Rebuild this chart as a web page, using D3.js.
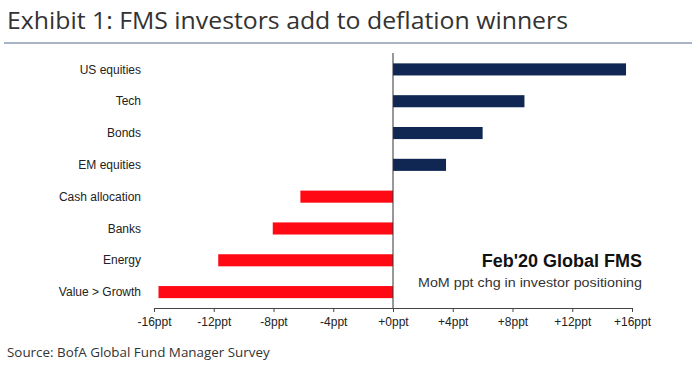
<!DOCTYPE html>
<html>
<head>
<meta charset="utf-8">
<script src="https://cdn.jsdelivr.net/npm/d3@7"></script>
<style>
  body { margin: 0; background: #fff; }
  svg { display: block; }
</style>
</head>
<body>
<div id="chart"></div>
<script>
const categories = ["US equities", "Tech", "Bonds", "EM equities", "Cash allocation", "Banks", "Energy", "Value > Growth"];
const changes = [15.6, 8.8, 6.0, 3.55, -6.2, -8.05, -11.7, -15.7];
const tickValues = [-16, -12, -8, -4, 0, 4, 8, 12, 16];
const tickLabels = ["-16ppt", "-12ppt", "-8ppt", "-4ppt", "+0ppt", "+4ppt", "+8ppt", "+12ppt", "+16ppt"];

const width = 692, height = 377;
const font = "Arial, 'Liberation Sans', sans-serif";

const svg = d3.select("#chart").append("svg")
    .attr("width", width)
    .attr("height", height);

// title + rule
svg.append("text")
    .attr("x", 7).attr("y", 29)
    .attr("font-family", "'Open Sans', sans-serif")
    .attr("font-size", 23)
    .attr("fill", "#333")
    .attr("textLength", 561)
    .attr("lengthAdjust", "spacingAndGlyphs")
    .text("Exhibit 1: FMS investors add to deflation winners");

svg.append("line")
    .attr("x1", 4).attr("x2", width)
    .attr("y1", 43).attr("y2", 43)
    .attr("stroke", "#8b9bb4").attr("stroke-width", 1.5);

const x = d3.scaleLinear().domain([-16, 16]).range([154, 632]);
const y = d3.scaleBand().domain(categories).range([53.5, 308])
    .paddingInner(0.62).paddingOuter(0.31);

const data = categories.map((c, i) => ({ name: c, value: changes[i] }));

svg.selectAll("rect.bar")
    .data(data)
    .enter()
    .append("rect")
    .attr("class", "bar")
    .attr("x", d => x(Math.min(0, d.value)))
    .attr("width", d => Math.abs(x(d.value) - x(0)))
    .attr("y", d => y(d.name))
    .attr("height", y.bandwidth())
    .attr("fill", d => d.value >= 0 ? "#0f2752" : "#ff0a14");

// category labels
svg.selectAll("text.cat")
    .data(data)
    .enter()
    .append("text")
    .attr("class", "cat")
    .attr("x", 141)
    .attr("y", d => y(d.name) + y.bandwidth() / 2)
    .attr("dy", "0.35em")
    .attr("text-anchor", "end")
    .attr("font-family", font)
    .attr("font-size", 12)
    .attr("fill", "#222")
    .text(d => d.name);

// zero line
svg.append("line")
    .attr("x1", x(0)).attr("x2", x(0))
    .attr("y1", 53).attr("y2", 308)
    .attr("stroke", "#333").attr("stroke-width", 1);

// x axis
const xAxis = d3.axisBottom(x)
    .tickValues(tickValues)
    .tickSize(4)
    .tickFormat((d, i) => tickLabels[i]);

const gx = svg.append("g")
    .attr("transform", "translate(0,308)")
    .call(xAxis);
gx.select(".domain").attr("stroke", "#444").attr("d", `M${x(-16)},0.5H${x(16)}`);
gx.selectAll(".tick line").attr("stroke", "#444");
gx.selectAll(".tick text")
    .attr("font-family", font)
    .attr("font-size", 12)
    .attr("fill", "#222")
    .attr("y", 9);

// annotation
svg.append("text")
    .attr("x", 642).attr("y", 267)
    .attr("text-anchor", "end")
    .attr("font-family", font)
    .attr("font-size", 18)
    .attr("font-weight", "bold")
    .attr("fill", "#111")
    .text("Feb'20 Global FMS");

svg.append("text")
    .attr("x", 642).attr("y", 286.5)
    .attr("text-anchor", "end")
    .attr("font-family", font)
    .attr("font-size", 12.5)
    .attr("fill", "#333")
    .attr("textLength", 224)
    .attr("lengthAdjust", "spacingAndGlyphs")
    .text("MoM ppt chg in investor positioning");

// source
svg.append("text")
    .attr("x", 7).attr("y", 357)
    .attr("font-family", "'Open Sans', sans-serif")
    .attr("font-size", 13.4)
    .attr("fill", "#333")
    .text("Source: BofA Global Fund Manager Survey");
</script>
</body>
</html>
